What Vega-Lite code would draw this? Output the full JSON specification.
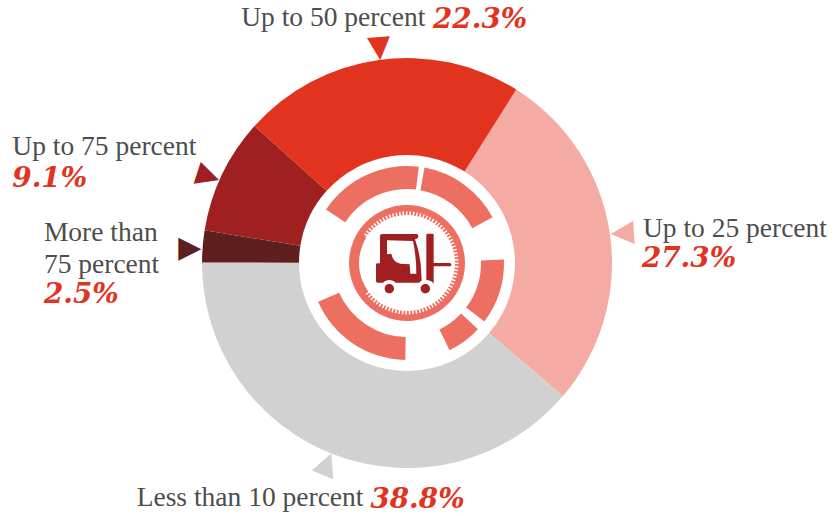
{"$schema":"https://vega.github.io/schema/vega-lite/v6.json","width":814,"height":506,"padding":{"left":0,"right":26,"top":10,"bottom":0},"autosize":"none","background":"white","config":{"view":{"stroke":null}},
"datasets":{"slices":[
{"ord":1,"cat":"a","label":"Up to 25 percent","pct":"27.3%","value":27.3},
{"ord":2,"cat":"b","label":"Less than 10 percent","pct":"38.8%","value":38.8},
{"ord":3,"cat":"c","label":"More than\n75 percent","pct":"2.5%","value":2.5},
{"ord":4,"cat":"d","label":"Up to 75 percent","pct":"9.1%","value":9.1},
{"ord":5,"cat":"e","label":"Up to 50 percent","pct":"22.3%","value":22.3}],
"gauge":[{"start":303.4,"end":367},{"start":10.4,"end":61.9},{"start":88,"end":127},{"start":133,"end":154},{"start":181,"end":246.4}],
"ring":[{"start":0,"end":360}],
"teeth":[{"start":303.6,"end":593.6}],
"icon":[{"name":"forklift"}]},
"data":{"name":"slices"},
"resolve":{"scale":{"theta":"independent"}},
"layer":[
{"data":{"name":"slices"},
"encoding":{"theta":{"field":"value","type":"quantitative","stack":true,"scale":{"domain":[0,100],"range":[0.562,6.8452]}},"order":{"field":"ord","type":"quantitative"},"detail":{"field":"cat","type":"nominal"}},
"layer":[
{"mark":{"type":"arc","radius":205,"radius2":108},"encoding":{"color":{"field":"cat","type":"nominal","legend":null,"scale":{"domain":["a","b","c","d","e"],"range":["#f4aba4","#d1d1d1","#5e201e","#a01f20","#e2331e"]}}}},
{"mark":{"type":"text","radius":217,"align":"center","baseline":"middle","font":"DejaVu Sans","fontSize":30,"angle":266,"dx":-3,"dy":-0.6},"encoding":{"text":{"condition":{"test":"datum.cat=='a'","value":"▲"},"value":""},"color":{"field":"cat","type":"nominal","legend":null}}},
{"mark":{"type":"text","radius":217,"align":"center","baseline":"middle","font":"DejaVu Sans","fontSize":30,"angle":22.3,"dx":-5.2,"dy":-1.5},"encoding":{"text":{"condition":{"test":"datum.cat=='b'","value":"▲"},"value":""},"color":{"field":"cat","type":"nominal","legend":null}}},
{"mark":{"type":"text","radius":217,"align":"center","baseline":"middle","font":"DejaVu Sans","fontSize":30,"angle":90,"dx":3.8,"dy":-0.7},"encoding":{"text":{"condition":{"test":"datum.cat=='c'","value":"▲"},"value":""},"color":{"field":"cat","type":"nominal","legend":null}}},
{"mark":{"type":"text","radius":217,"align":"center","baseline":"middle","font":"DejaVu Sans","fontSize":30,"angle":108,"dx":7.6,"dy":-0.3},"encoding":{"text":{"condition":{"test":"datum.cat=='d'","value":"▲"},"value":""},"color":{"field":"cat","type":"nominal","legend":null}}},
{"mark":{"type":"text","radius":217,"align":"center","baseline":"middle","font":"DejaVu Sans","fontSize":30,"angle":175.6,"dx":-2.2,"dy":-2},"encoding":{"text":{"condition":{"test":"datum.cat=='e'","value":"▲"},"value":""},"color":{"field":"cat","type":"nominal","legend":null}}},
{"mark":{"type":"text","radius":217,"align":"left","baseline":"alphabetic","font":"Liberation Serif","fontSize":27.5,"color":"#4d4d4d","dx":21.4,"dy":7},"encoding":{"text":{"condition":{"test":"datum.cat=='a'","field":"label"},"value":""}}},
{"mark":{"type":"text","radius":217,"align":"left","baseline":"alphabetic","font":"DejaVu Serif","fontStyle":"italic","fontWeight":"bold","fontSize":27.8,"color":"#e2331e","dx":20.4,"dy":37},"encoding":{"text":{"condition":{"test":"datum.cat=='a'","field":"pct"},"value":""}}},
{"mark":{"type":"text","radius":217,"align":"left","baseline":"alphabetic","font":"Liberation Serif","fontSize":27.5,"color":"#4d4d4d","dx":-195,"dy":39.5},"encoding":{"text":{"condition":{"test":"datum.cat=='b'","field":"label"},"value":""}}},
{"mark":{"type":"text","radius":217,"align":"left","baseline":"alphabetic","font":"DejaVu Serif","fontStyle":"italic","fontWeight":"bold","fontSize":27.8,"color":"#e2331e","dx":38.8,"dy":41.5},"encoding":{"text":{"condition":{"test":"datum.cat=='b'","field":"pct"},"value":""}}},
{"mark":{"type":"text","radius":217,"align":"left","baseline":"alphabetic","font":"Liberation Serif","fontSize":27.5,"lineBreak":"\n","lineHeight":31.6,"color":"#4d4d4d","dx":-146.8,"dy":-4},"encoding":{"text":{"condition":{"test":"datum.cat=='c'","field":"label"},"value":""}}},
{"mark":{"type":"text","radius":217,"align":"left","baseline":"alphabetic","font":"DejaVu Serif","fontStyle":"italic","fontWeight":"bold","fontSize":27.8,"color":"#e2331e","dx":-146.8,"dy":57.5},"encoding":{"text":{"condition":{"test":"datum.cat=='c'","field":"pct"},"value":""}}},
{"mark":{"type":"text","radius":217,"align":"left","baseline":"alphabetic","font":"Liberation Serif","fontSize":27.5,"color":"#4d4d4d","dx":-198.9,"dy":-14.3},"encoding":{"text":{"condition":{"test":"datum.cat=='d'","field":"label"},"value":""}}},
{"mark":{"type":"text","radius":217,"align":"left","baseline":"alphabetic","font":"DejaVu Serif","fontStyle":"italic","fontWeight":"bold","fontSize":27.8,"color":"#e2331e","dx":-198.9,"dy":17.9},"encoding":{"text":{"condition":{"test":"datum.cat=='d'","field":"pct"},"value":""}}},
{"mark":{"type":"text","radius":217,"align":"left","baseline":"alphabetic","font":"Liberation Serif","fontSize":27.5,"color":"#4d4d4d","dx":-135.8,"dy":-22},"encoding":{"text":{"condition":{"test":"datum.cat=='e'","field":"label"},"value":""}}},
{"mark":{"type":"text","radius":217,"align":"left","baseline":"alphabetic","font":"DejaVu Serif","fontStyle":"italic","fontWeight":"bold","fontSize":27.8,"color":"#e2331e","dx":56,"dy":-20},"encoding":{"text":{"condition":{"test":"datum.cat=='e'","field":"pct"},"value":""}}}
]},
{"data":{"name":"gauge"},"mark":{"type":"arc","radius":97,"radius2":74,"color":"#ec6f62"},"encoding":{"theta":{"field":"start","type":"quantitative","scale":{"domain":[0,360],"range":[0,6.28319]}},"theta2":{"field":"end"}}},
{"data":{"name":"ring"},"mark":{"type":"arc","radius":58,"radius2":48,"color":"#ec6f62"},"encoding":{"theta":{"field":"start","type":"quantitative","scale":{"domain":[0,360],"range":[0,6.28319]}},"theta2":{"field":"end"}}},
{"data":{"name":"teeth"},"mark":{"type":"arc","radius":49.5,"radius2":0,"filled":false,"stroke":"white","strokeWidth":4,"strokeDash":[1.5,1.9]},"encoding":{"theta":{"field":"start","type":"quantitative","scale":{"domain":[0,360],"range":[0,6.28319]}},"theta2":{"field":"end"}}},
{"data":{"name":"icon"},"mark":{"type":"point","filled":true,"opacity":1,"color":"#a01f20","strokeWidth":0,"size":0.4444,"shape":"M-81,-81Q-81,-87 -75,-87L28,-87Q34,-87 34,-80Q34,-73 24,-71Q42,-20 43,33L44,53.4A26,26 0 0 0 36.2,59L-34.2,59A26,26 0 0 0 -71.8,59L-88,59Q-93,59 -93,53L-93,5Q-93,1 -88,1L-81,1ZM-60,-68L-60,-26L-47,-28Q-42,-2 -20,2L8,4L10,32L28,32Q28,-20 18,-66ZM58,-84Q58,-88 62,-88L76,-88Q80,-88 80,-84L80,0L129,0Q133,0 133,5Q133,10 129,10L80,10L80,62A26,26 0 0 0 58,51.2ZM-39,77A14,14 0 1 1 -67,77A14,14 0 1 1 -39,77ZM69,77A14,14 0 1 1 41,77A14,14 0 1 1 69,77Z"},"encoding":{}}
]}
